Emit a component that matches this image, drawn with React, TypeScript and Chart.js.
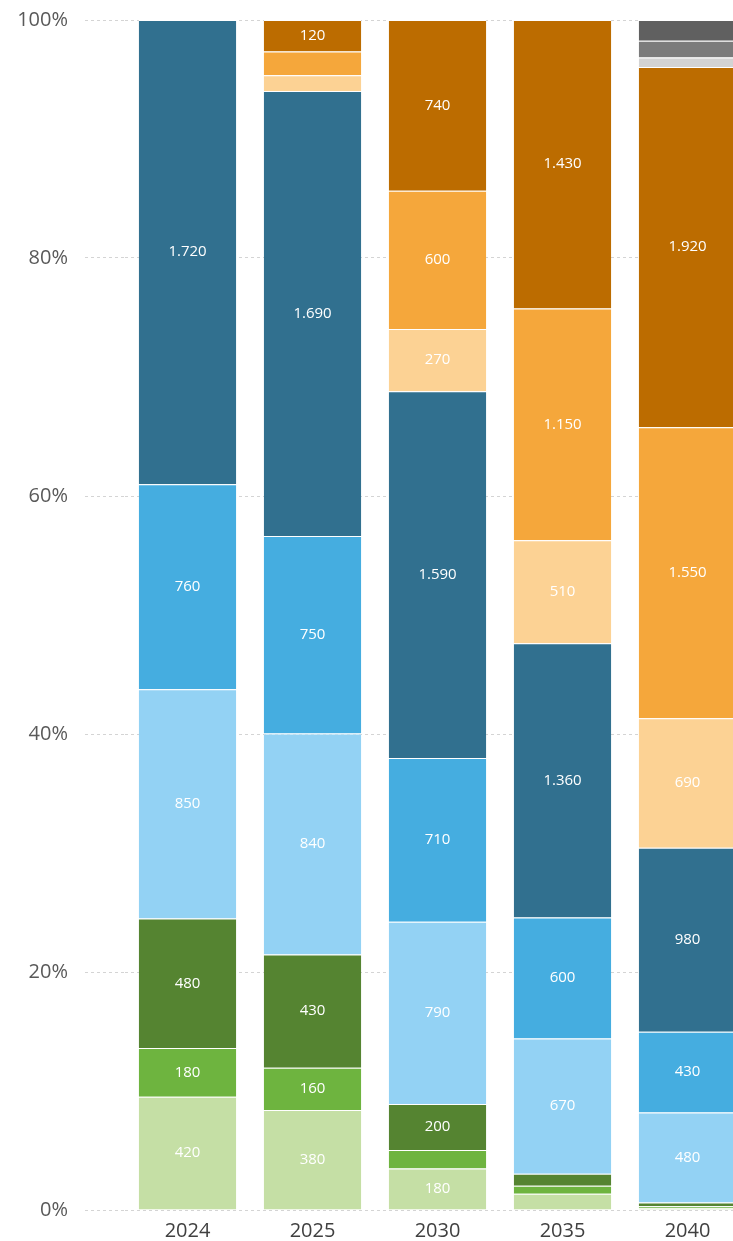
import React, { useEffect, useRef } from "react";
import { Chart, registerables } from "chart.js";

Chart.register(...registerables);

const categories = ["2024", "2025", "2030", "2035", "2040"];
const yTickValues = [0, 20, 40, 60, 80, 100];

const lightGreen = [420, 380, 180, 80, 10];
const midGreen = [180, 160, 80, 40, 10];
const darkGreen = [480, 430, 200, 60, 20];
const lightBlue = [850, 840, 790, 670, 480];
const midBlue = [760, 750, 710, 600, 430];
const darkBlue = [1720, 1690, 1590, 1360, 980];
const lightOrange = [0, 60, 270, 510, 690];
const midOrange = [0, 90, 600, 1150, 1550];
const darkOrange = [0, 120, 740, 1430, 1920];
const lightGrey = [0, 0, 0, 0, 50];
const midGrey = [0, 0, 0, 0, 90];
const darkGrey = [0, 0, 0, 0, 110];

const seriesList = [
  { name: "lightGreen", values: lightGreen, color: "#C5DFA5" },
  { name: "midGreen", values: midGreen, color: "#6EB43F" },
  { name: "darkGreen", values: darkGreen, color: "#558431" },
  { name: "lightBlue", values: lightBlue, color: "#93D2F4" },
  { name: "midBlue", values: midBlue, color: "#45ADE0" },
  { name: "darkBlue", values: darkBlue, color: "#31708F" },
  { name: "lightOrange", values: lightOrange, color: "#FCD294" },
  { name: "midOrange", values: midOrange, color: "#F5A73B" },
  { name: "darkOrange", values: darkOrange, color: "#BC6C00" },
  { name: "lightGrey", values: lightGrey, color: "#D3D3D3" },
  { name: "midGrey", values: midGrey, color: "#7B7B7B" },
  { name: "darkGrey", values: darkGrey, color: "#606060" },
];

const totals = categories.map((_, i) =>
  seriesList.reduce((s, d) => s + d.values[i], 0)
);

const fmt = (v: number) =>
  String(v).replace(/\B(?=(\d{3})+(?!\d))/g, ".");

const labelPlugin = {
  id: "segLabels",
  afterDatasetsDraw(chart: any) {
    const ctx = chart.ctx;
    ctx.save();
    ctx.font = "15px 'Open Sans'";
    ctx.fillStyle = "#ffffff";
    ctx.textAlign = "center";
    ctx.textBaseline = "middle";
    chart.data.datasets.forEach((ds: any, di: number) => {
      const meta = chart.getDatasetMeta(di);
      meta.data.forEach((bar: any, i: number) => {
        const raw = ds.rawValues[i];
        if (raw >= 120) {
          const cy = (bar.y + bar.base) / 2;
          ctx.fillText(fmt(raw), bar.x, cy);
        }
      });
    });
    ctx.restore();
  },
};

export default function App() {
  const ref = useRef<HTMLCanvasElement>(null);

  useEffect(() => {
    if (!ref.current) return;
    const chart = new Chart(ref.current, {
      type: "bar",
      data: {
        labels: categories,
        datasets: seriesList.map((s) => ({
          label: s.name,
          data: s.values.map((v, i) => (v / totals[i]) * 100),
          rawValues: s.values,
          backgroundColor: s.color,
          borderColor: "#ffffff",
          borderWidth: { top: 1, left: 0, right: 0, bottom: 0 },
          borderSkipped: "start",
          categoryPercentage: 1,
          barPercentage: 0.78,
        })) as any,
      },
      options: {
        responsive: false,
        animation: false,
        layout: { padding: { top: 20, left: 0, right: 0, bottom: 0 } },
        plugins: {
          legend: { display: false },
          tooltip: { enabled: false },
        },
        scales: {
          x: {
            stacked: true,
            grid: { display: false, drawTicks: false },
            border: { display: false },
            ticks: {
              color: "#404040",
              font: { family: "'Open Sans'", size: 20 },
              padding: 9,
            },
            afterFit: (scale: any) => {
              scale.height = 31;
              scale.paddingLeft = 0;
              scale.paddingRight = 0;
            },
          },
          y: {
            stacked: true,
            min: 0,
            max: 100,
            afterBuildTicks: (scale: any) => {
              scale.ticks = yTickValues.map((v) => ({ value: v }));
            },
            grid: {
              color: "#D4D4D4",
              lineWidth: 1,
              drawTicks: true,
              tickLength: 40,
              tickColor: "#D4D4D4",
              tickBorderDash: [3, 3],
            },
            border: { display: false, dash: [3, 3] },
            ticks: {
              color: "#595959",
              font: { family: "'Open Sans'", size: 20 },
              padding: 17,
              callback: (v: any) => v + "%",
            },
            afterFit: (scale: any) => {
              scale.width = 125;
              scale.paddingTop = 0;
              scale.paddingBottom = 0;
            },
          },
        },
      },
      plugins: [labelPlugin],
    });
    return () => chart.destroy();
  }, []);

  return (
    <div
      style={{
        position: "fixed",
        top: 0,
        left: 0,
        width: 733,
        height: 1241,
        overflow: "hidden",
        background: "#ffffff",
      }}
    >
      <canvas
        ref={ref}
        width={750}
        height={1241}
        style={{ display: "block", width: 750, height: 1241 }}
      />
    </div>
  );
}
